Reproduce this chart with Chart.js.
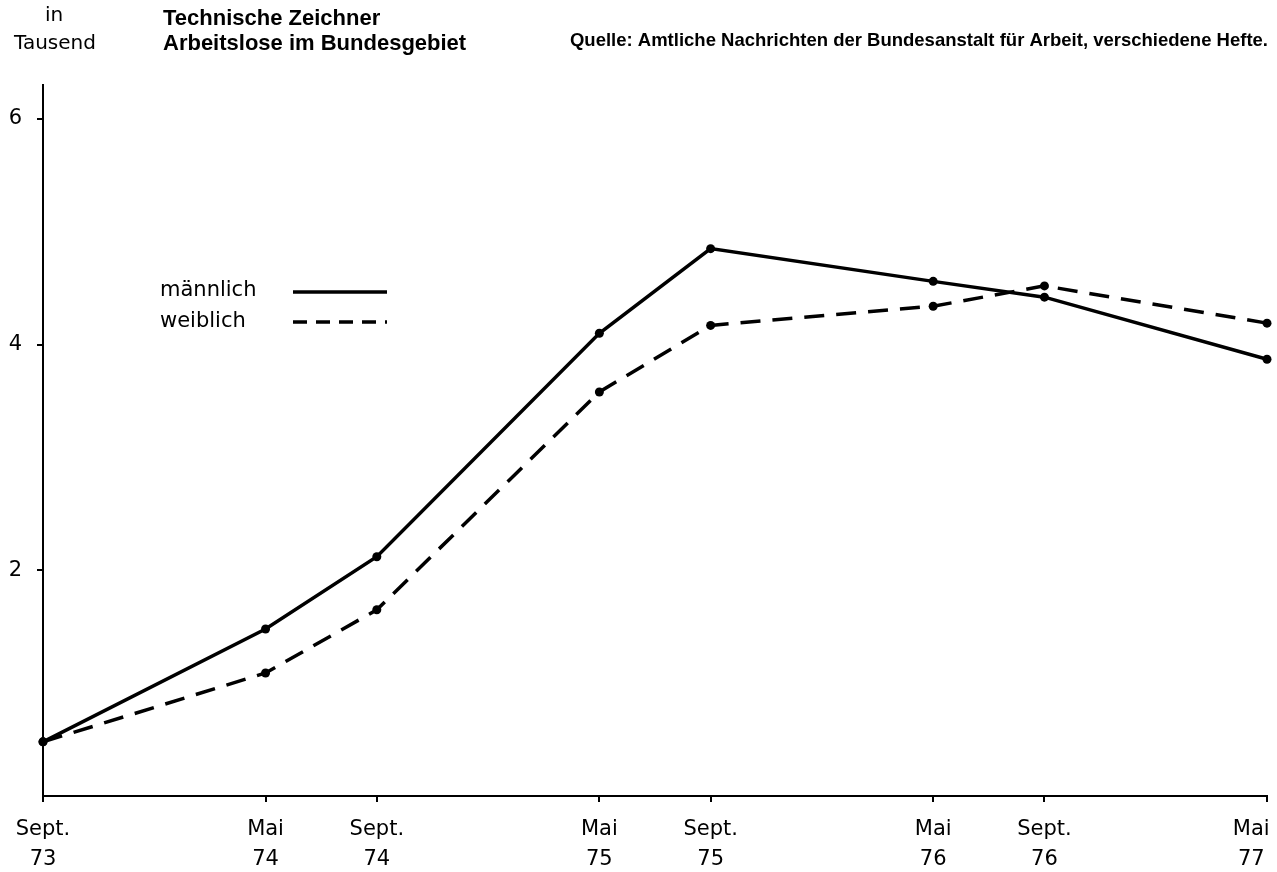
<!DOCTYPE html>
<html>
<head>
<meta charset="utf-8">
<script src="https://cdn.jsdelivr.net/npm/chart.js@4"></script>
<style>
  body { margin: 0; background: #fff; }
  canvas { display: block; }
</style>
</head>
<body>
<canvas id="chart" width="1277" height="872"></canvas>
<script>
// months since Sept. 73
const months = [0, 8, 12, 20, 24, 32, 36, 44];
const tickLabels = [['Sept.', '73'], ['Mai', '74'], ['Sept.', '74'], ['Mai', '75'],
                    ['Sept.', '75'], ['Mai', '76'], ['Sept.', '76'], ['Mai', '77']];
const maennlich = [0.48, 1.48, 2.12, 4.10, 4.85, 4.56, 4.42, 3.87];
const weiblich = [0.48, 1.09, 1.65, 3.58, 4.17, 4.34, 4.52, 4.19];
const yTicks = [2, 4, 6];

const font = '"DejaVu Sans", sans-serif';
const boldFont = '"Liberation Sans", Arial, sans-serif';

function toPoints(values) {
    return values.map((v, i) => ({ x: months[i], y: v }));
}

// titles, source and legend drawn on the canvas
const annotations = {
    id: 'annotations',
    afterDraw(chart) {
        const ctx = chart.ctx;
        ctx.save();
        ctx.fillStyle = '#000';
        ctx.textBaseline = 'alphabetic';

        ctx.font = '20px ' + font;
        ctx.textAlign = 'center';
        ctx.fillText('in', 54, 21);
        ctx.fillText('Tausend', 55, 49);

        ctx.textAlign = 'left';
        ctx.font = 'bold 22px ' + boldFont;
        ctx.fillText('Technische Zeichner', 163, 25);
        ctx.fillText('Arbeitslose im Bundesgebiet', 163, 50);

        ctx.textAlign = 'right';
        ctx.font = 'bold 18.5px ' + boldFont;
        ctx.fillText('Quelle: Amtliche Nachrichten der Bundesanstalt für Arbeit, verschiedene Hefte.', 1268, 46);

        // legend
        ctx.textAlign = 'left';
        ctx.font = '21px ' + font;
        ctx.fillText('männlich', 160, 296);
        ctx.fillText('weiblich', 160, 327);
        ctx.strokeStyle = '#000';
        ctx.lineWidth = 3.5;
        ctx.beginPath();
        ctx.moveTo(293, 292);
        ctx.lineTo(387, 292);
        ctx.stroke();
        ctx.setLineDash([14, 9]);
        ctx.beginPath();
        ctx.moveTo(293, 322);
        ctx.lineTo(387, 322);
        ctx.stroke();
        ctx.restore();
    }
};

new Chart(document.getElementById('chart'), {
    type: 'line',
    data: {
        datasets: [
            {
                label: 'männlich',
                data: toPoints(maennlich),
                borderColor: '#000',
                backgroundColor: '#000',
                borderWidth: 3.5,
                pointRadius: 4.5,
                pointBorderWidth: 0,
                clip: false
            },
            {
                label: 'weiblich',
                data: toPoints(weiblich),
                borderColor: '#000',
                backgroundColor: '#000',
                borderWidth: 3.5,
                borderDash: [20, 12],
                pointRadius: 4.5,
                pointBorderWidth: 0,
                clip: false
            }
        ]
    },
    options: {
        responsive: false,
        animation: false,
        layout: { padding: { left: 0, right: 10, top: 85, bottom: 0 } },
        plugins: {
            legend: { display: false },
            tooltip: { enabled: false }
        },
        scales: {
            x: {
                type: 'linear',
                min: 0,
                max: 44,
                afterBuildTicks: scale => { scale.ticks = months.map(v => ({ value: v })); },
                afterFit: scale => {
                    scale.height = 76;
                    scale.paddingLeft = 0;
                    scale.paddingRight = 0;
                },
                border: { display: true, color: '#000', width: 2 },
                grid: { drawOnChartArea: false, drawTicks: true, tickLength: 6, color: '#000', lineWidth: 2 },
                ticks: {
                    color: '#000',
                    font: { family: font, size: 21, lineHeight: 1.43 },
                    padding: 13,
                    maxRotation: 0,
                    autoSkip: false,
                    callback: (value) => {
                        const i = months.indexOf(value);
                        // keep the last label inside the canvas
                        if (i === months.length - 1) {
                            return tickLabels[i].map(s => s + '\u2003\u2002');
                        }
                        return tickLabels[i];
                    }
                }
            },
            y: {
                min: 0,
                max: 6.3,
                afterBuildTicks: scale => { scale.ticks = yTicks.map(v => ({ value: v })); },
                afterFit: scale => {
                    scale.width = 43;
                    scale.paddingTop = 0;
                    scale.paddingBottom = 0;
                },
                border: { display: true, color: '#000', width: 2 },
                grid: { drawOnChartArea: false, drawTicks: true, tickLength: 6, color: '#000', lineWidth: 2 },
                ticks: {
                    color: '#000',
                    font: { family: font, size: 21 },
                    padding: 15
                }
            }
        }
    },
    plugins: [annotations]
});
</script>
</body>
</html>
